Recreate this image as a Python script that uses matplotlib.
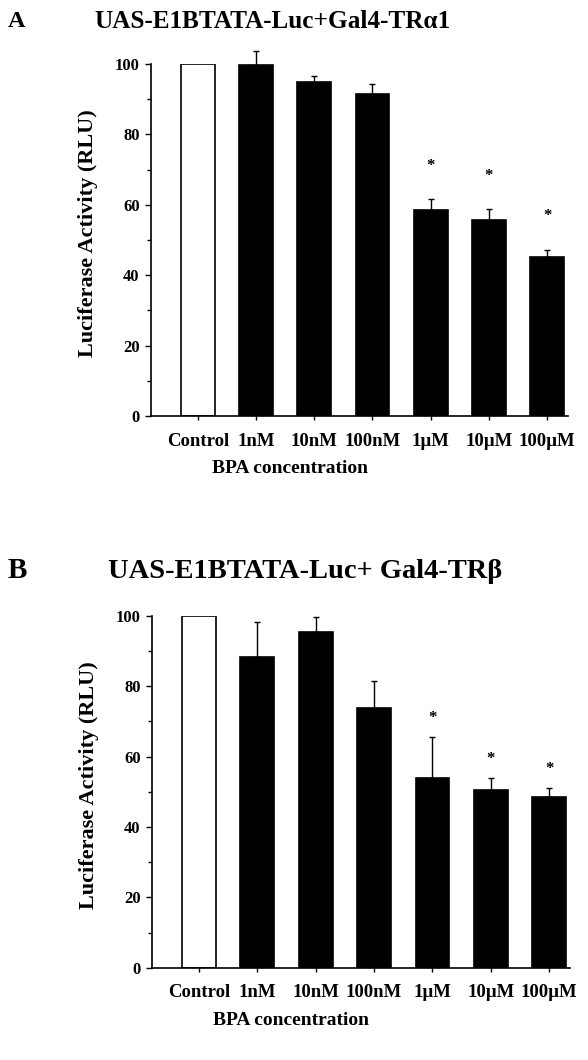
import numpy as np
import matplotlib
matplotlib.use("Agg")
import matplotlib.pyplot as plt
from matplotlib.ticker import MultipleLocator

plt.rcParams['font.family'] = ['Liberation Serif', 'DejaVu Serif']
plt.rcParams['font.weight'] = 'bold'

### data
doses = ["Control", "1nM", "10nM", "100nM", "1\u00b5M", "10\u00b5M", "100\u00b5M"]

tra_mean = [100, 99.6, 94.8, 91.5, 58.5, 55.7, 45.1]
tra_err = [0, 4.0, 1.8, 2.8, 3.1, 3.1, 2.1]
tra_sig = [False, False, False, False, True, True, True]

trb_mean = [100, 88.3, 95.4, 73.9, 53.9, 50.6, 48.4]
trb_err = [0, 10.1, 4.4, 7.5, 11.6, 3.3, 2.6]
trb_sig = [False, False, False, False, True, True, True]


def draw_panel(ax, means, errs, sig, star_gap):
    x = np.arange(len(means))
    colors = ['white'] + ['black'] * (len(means) - 1)
    ax.bar(x, means, width=0.58, color=colors, edgecolor='black', linewidth=1.2, zorder=2)
    lower = np.zeros(len(errs))
    eb = ax.errorbar(x[1:], means[1:], yerr=[lower[1:], errs[1:]], fmt='none',
                     ecolor='black', elinewidth=1.0, capsize=2.5, capthick=1.0, zorder=1)
    for art in eb.lines[1] + eb.lines[2]:
        art.set_clip_on(False)
    # significance stars
    for i in range(len(means)):
        if sig[i]:
            ax.text(x[i], means[i] + errs[i] + star_gap, '*', ha='center', va='center', fontsize=12)

    ax.set_xlim(-0.81, 6.36)
    ax.set_ylim(0, 100)
    ax.spines['top'].set_visible(False)
    ax.spines['right'].set_visible(False)
    ax.spines['left'].set_linewidth(1.2)
    ax.spines['bottom'].set_linewidth(1.2)
    ax.yaxis.set_major_locator(MultipleLocator(20))
    ax.yaxis.set_minor_locator(MultipleLocator(10))
    ax.tick_params(axis='y', which='major', length=4, width=1, labelsize=12, pad=4)
    ax.tick_params(axis='y', which='minor', length=3, width=1)
    ax.set_xticks(x)
    ax.set_xticklabels(doses)
    ax.tick_params(axis='x', length=3, width=1, labelsize=13.5, pad=9)
    ax.set_ylabel("Luciferase Activity (RLU)", fontsize=16, fontweight='bold')
    ax.yaxis.set_label_coords(-0.126, 0.52)
    ax.set_xlabel("BPA concentration", fontsize=14, fontweight='bold')
    ax.xaxis.set_label_coords(0.334, -0.125)


fig = plt.figure(figsize=(5.88, 10.6), dpi=100)

axA = fig.add_axes([0.2563, 0.6075, 0.7097, 0.3321])
draw_panel(axA, tra_mean, tra_err, tra_sig, 9.5)

axB = fig.add_axes([0.258, 0.0871, 0.7117, 0.3318])
draw_panel(axB, trb_mean, trb_err, trb_sig, 5.5)

fig.text(8 / 588, 1 - 21.5 / 1060, "A", fontsize=17.5, fontweight='bold', va='center', ha='left')
fig.text(272 / 588, 1 - 21 / 1060, "UAS-E1BTATA-Luc+Gal4-TR\u03b11", fontsize=18.2,
         fontweight='bold', va='center', ha='center')

fig.text(8 / 588, 1 - 571 / 1060, "B", fontsize=21, fontweight='bold', va='center', ha='left')
fig.text(305 / 588, 1 - 572 / 1060, "UAS-E1BTATA-Luc+ Gal4-TR\u03b2", fontsize=20.5,
         fontweight='bold', va='center', ha='center')

fig.savefig("out.png", dpi=100)
